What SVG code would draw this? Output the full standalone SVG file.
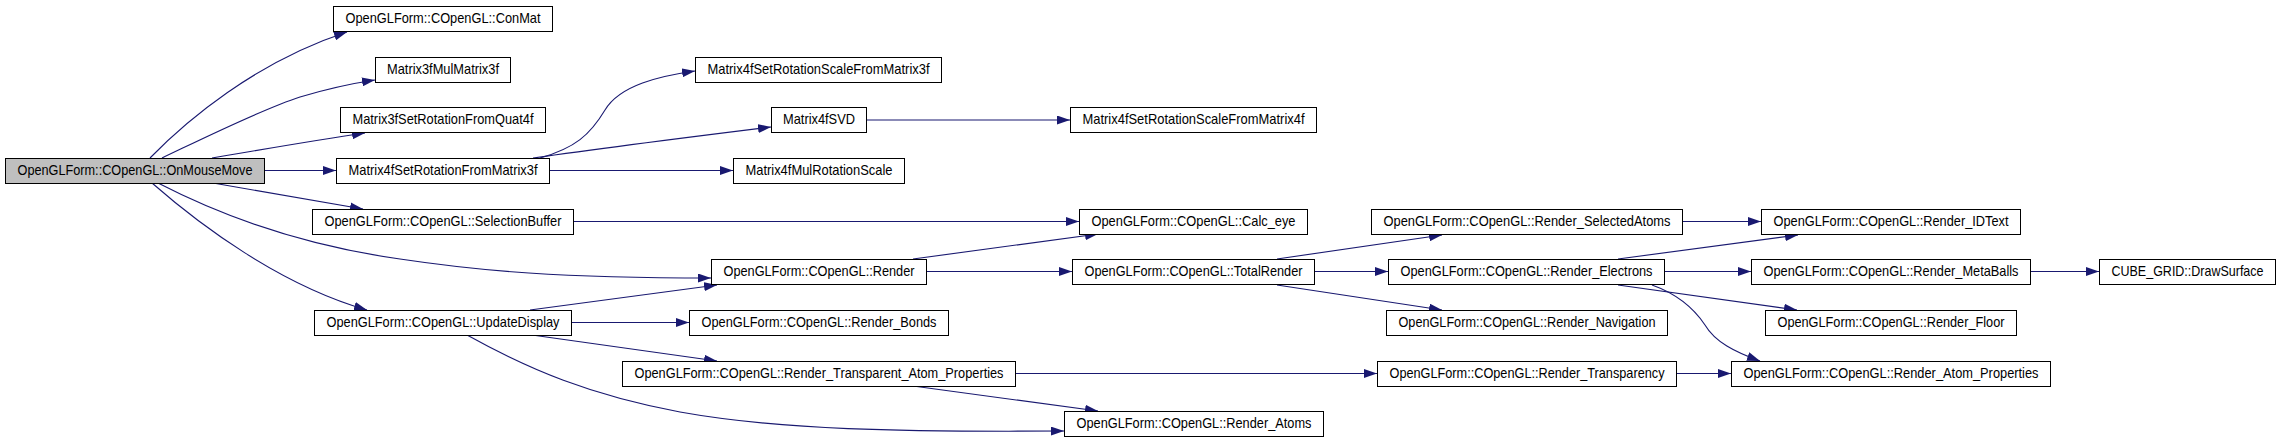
<svg xmlns="http://www.w3.org/2000/svg" width="2283" height="443" viewBox="0 0 2283 443">
<style>
.n rect{fill:#ffffff;stroke:#000000;stroke-width:1}
.n.root rect{fill:#bfbfbf}
.n text{font-family:"Liberation Sans",Arial,sans-serif;font-size:15px;fill:#000000;text-anchor:middle}
.e path{fill:none;stroke:#191970;stroke-width:1.1;marker-end:url(#arr)}
</style>
<defs>
<marker id="arr" markerWidth="13" markerHeight="9" refX="13" refY="4.5" orient="auto" markerUnits="userSpaceOnUse">
<path d="M0,0 L13,4.5 L0,9 z" fill="#191970"/>
</marker>
</defs>
<rect width="2283" height="443" fill="#ffffff"/>
<g id="connectors" class="e">
<path d="M150,158 C185,122 255,62 347,32"/>
<path d="M162,158 C200,140 260,110 300,97 C330,88 355,83 375,80"/>
<path d="M212,158 C260,150 310,141 365,133"/>
<path d="M264,170.5 L336,170.5"/>
<path d="M213,183 C260,191 310,200 363,209"/>
<path d="M158,183 C220,215 300,245 400,259 C480,271 560,278 711,278"/>
<path d="M152,183 C200,225 280,285 367,310"/>
<path d="M540,158 C575,148 590,135 605,110 C620,85 660,76 695,71"/>
<path d="M533,158 C610,147 690,137 771,127"/>
<path d="M549,170.5 L733,170.5"/>
<path d="M866,120 L1070,120"/>
<path d="M573,221.5 L1079,221.5"/>
<path d="M913,259 L1098,234"/>
<path d="M926,271.5 L1072,271.5"/>
<path d="M530,310 L717,285"/>
<path d="M571,322.5 L689,322.5"/>
<path d="M532,335 L717,361"/>
<path d="M467,335 C530,370 590,395 680,412 C780,430 900,432 1064,431"/>
<path d="M913,386 L1098,411"/>
<path d="M1015,373.5 L1377,373.5"/>
<path d="M1277,259 L1442,235"/>
<path d="M1314,271.5 L1388,271.5"/>
<path d="M1277,285 L1442,310"/>
<path d="M1682,221.5 L1761,221.5"/>
<path d="M1618,259 L1798,235"/>
<path d="M1664,271.5 L1751,271.5"/>
<path d="M1618,285 L1797,310"/>
<path d="M1652,285 C1680,295 1695,310 1705,325 C1715,342 1735,352 1760,361"/>
<path d="M1676,373.5 L1731,373.5"/>
<path d="M2030,271.5 L2099,271.5"/>
</g>
<g id="n_onmousemove" class="n root"><rect x="5.5" y="158.5" width="259" height="25"/><text x="135" y="175" textLength="235" lengthAdjust="spacingAndGlyphs">OpenGLForm::COpenGL::OnMouseMove</text></g>
<g id="n_conmat" class="n"><rect x="333.5" y="6.5" width="219" height="25"/><text x="443" y="23" textLength="195" lengthAdjust="spacingAndGlyphs">OpenGLForm::COpenGL::ConMat</text></g>
<g id="n_m3fmul" class="n"><rect x="375.5" y="57.5" width="135" height="25"/><text x="443" y="74" textLength="112" lengthAdjust="spacingAndGlyphs">Matrix3fMulMatrix3f</text></g>
<g id="n_m3fquat" class="n"><rect x="340.5" y="107.5" width="205" height="25"/><text x="443" y="124" textLength="181" lengthAdjust="spacingAndGlyphs">Matrix3fSetRotationFromQuat4f</text></g>
<g id="n_m4fsetrot" class="n"><rect x="336.5" y="158.5" width="213" height="25"/><text x="443" y="175" textLength="189" lengthAdjust="spacingAndGlyphs">Matrix4fSetRotationFromMatrix3f</text></g>
<g id="n_selbuf" class="n"><rect x="312.5" y="209.5" width="261" height="25"/><text x="443" y="226" textLength="237" lengthAdjust="spacingAndGlyphs">OpenGLForm::COpenGL::SelectionBuffer</text></g>
<g id="n_update" class="n"><rect x="314.5" y="310.5" width="257" height="25"/><text x="443" y="327" textLength="233" lengthAdjust="spacingAndGlyphs">OpenGLForm::COpenGL::UpdateDisplay</text></g>
<g id="n_m4fscale3" class="n"><rect x="695.5" y="57.5" width="246" height="25"/><text x="818.5" y="74" textLength="222" lengthAdjust="spacingAndGlyphs">Matrix4fSetRotationScaleFromMatrix3f</text></g>
<g id="n_svd" class="n"><rect x="771.5" y="107.5" width="95" height="25"/><text x="819" y="124" textLength="72" lengthAdjust="spacingAndGlyphs">Matrix4fSVD</text></g>
<g id="n_m4fscale4" class="n"><rect x="1070.5" y="107.5" width="246" height="25"/><text x="1193.5" y="124" textLength="222" lengthAdjust="spacingAndGlyphs">Matrix4fSetRotationScaleFromMatrix4f</text></g>
<g id="n_mulrot" class="n"><rect x="733.5" y="158.5" width="171" height="25"/><text x="819" y="175" textLength="147" lengthAdjust="spacingAndGlyphs">Matrix4fMulRotationScale</text></g>
<g id="n_render" class="n"><rect x="711.5" y="259.5" width="215" height="25"/><text x="819" y="276" textLength="191" lengthAdjust="spacingAndGlyphs">OpenGLForm::COpenGL::Render</text></g>
<g id="n_bonds" class="n"><rect x="689.5" y="310.5" width="259" height="25"/><text x="819" y="327" textLength="235" lengthAdjust="spacingAndGlyphs">OpenGLForm::COpenGL::Render_Bonds</text></g>
<g id="n_rtap" class="n"><rect x="622.5" y="361.5" width="393" height="25"/><text x="819" y="378" textLength="369" lengthAdjust="spacingAndGlyphs">OpenGLForm::COpenGL::Render_Transparent_Atom_Properties</text></g>
<g id="n_calceye" class="n"><rect x="1079.5" y="209.5" width="228" height="25"/><text x="1193.5" y="226" textLength="204" lengthAdjust="spacingAndGlyphs">OpenGLForm::COpenGL::Calc_eye</text></g>
<g id="n_total" class="n"><rect x="1072.5" y="259.5" width="242" height="25"/><text x="1193.5" y="276" textLength="218" lengthAdjust="spacingAndGlyphs">OpenGLForm::COpenGL::TotalRender</text></g>
<g id="n_atoms" class="n"><rect x="1064.5" y="411.5" width="259" height="25"/><text x="1194" y="428" textLength="235" lengthAdjust="spacingAndGlyphs">OpenGLForm::COpenGL::Render_Atoms</text></g>
<g id="n_selatoms" class="n"><rect x="1371.5" y="209.5" width="311" height="25"/><text x="1527" y="226" textLength="287" lengthAdjust="spacingAndGlyphs">OpenGLForm::COpenGL::Render_SelectedAtoms</text></g>
<g id="n_electrons" class="n"><rect x="1388.5" y="259.5" width="276" height="25"/><text x="1526.5" y="276" textLength="252" lengthAdjust="spacingAndGlyphs">OpenGLForm::COpenGL::Render_Electrons</text></g>
<g id="n_nav" class="n"><rect x="1386.5" y="310.5" width="281" height="25"/><text x="1527" y="327" textLength="257" lengthAdjust="spacingAndGlyphs">OpenGLForm::COpenGL::Render_Navigation</text></g>
<g id="n_transp" class="n"><rect x="1377.5" y="361.5" width="299" height="25"/><text x="1527" y="378" textLength="275" lengthAdjust="spacingAndGlyphs">OpenGLForm::COpenGL::Render_Transparency</text></g>
<g id="n_idtext" class="n"><rect x="1761.5" y="209.5" width="259" height="25"/><text x="1891" y="226" textLength="235" lengthAdjust="spacingAndGlyphs">OpenGLForm::COpenGL::Render_IDText</text></g>
<g id="n_metaballs" class="n"><rect x="1751.5" y="259.5" width="279" height="25"/><text x="1891" y="276" textLength="255" lengthAdjust="spacingAndGlyphs">OpenGLForm::COpenGL::Render_MetaBalls</text></g>
<g id="n_floor" class="n"><rect x="1765.5" y="310.5" width="251" height="25"/><text x="1891" y="327" textLength="227" lengthAdjust="spacingAndGlyphs">OpenGLForm::COpenGL::Render_Floor</text></g>
<g id="n_atomprops" class="n"><rect x="1731.5" y="361.5" width="319" height="25"/><text x="1891" y="378" textLength="295" lengthAdjust="spacingAndGlyphs">OpenGLForm::COpenGL::Render_Atom_Properties</text></g>
<g id="n_drawsurface" class="n"><rect x="2099.5" y="259.5" width="176" height="25"/><text x="2187.5" y="276" textLength="152" lengthAdjust="spacingAndGlyphs">CUBE_GRID::DrawSurface</text></g>
</svg>
